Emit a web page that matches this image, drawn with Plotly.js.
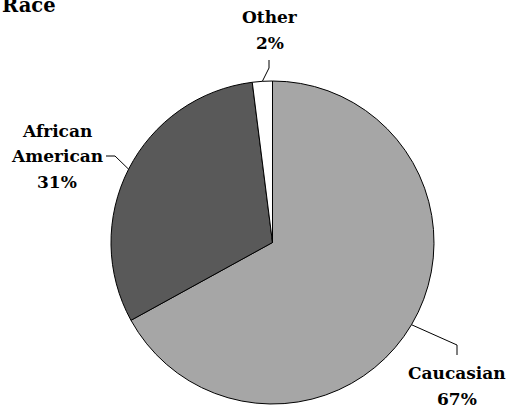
<!DOCTYPE html>
<html>
<head>
<meta charset="utf-8">
<script src="https://cdn.plot.ly/plotly-3.0.1.min.js"></script>
<style>html,body{margin:0;padding:0;background:#fff;}</style>
</head>
<body>
<div id="chart" style="width:508px;height:405px"></div>
<script>
// ---- data ----
const categories = ['Caucasian', 'African American', 'Other'];
const labelLines = [['Caucasian'], ['African', 'American'], ['Other']];
const values = [67, 31, 2];
const titleText = 'Race';

// ---- styling / layout ----
const colors = ['#a6a6a6', '#595959', '#ffffff'];
const W = 508, H = 405;
const cx = 272.5, cy = 242.5, R = 161.5;
const FONT = 'DejaVu Serif';
const LINE = 26;
// label (pixel centre x, first-line middle y) and leader bends (pixel)
const labelPos = [
  {x: 456.5, y: 372.5, bend: [457, 345], end: [457, 355]},
  {x: 56.5, y: 130.5, bend: [115, 156], end: [106, 156]},
  {x: 270, y: 17.5, bend: [269, 68], end: [269, 60]}
];

const px = x => x / W;
const py = y => (H - y) / H;

const total = values.reduce((a, b) => a + b, 0);
let cum = 0;
const annotations = [];
const shapes = [];
values.forEach((v, i) => {
  const mid = (cum + v / 2) / total * 2 * Math.PI;
  cum += v;
  const ax = cx + R * Math.sin(mid);
  const ay = cy - R * Math.cos(mid);
  const lp = labelPos[i];
  shapes.push({
    type: 'path', xref: 'paper', yref: 'paper',
    path: `M ${px(ax)},${py(ay)} L ${px(lp.bend[0])},${py(lp.bend[1])} L ${px(lp.end[0])},${py(lp.end[1])}`,
    line: {color: '#000', width: 1}
  });
  const lines = labelLines[i].concat([v + '%']);
  lines.forEach((t, k) => {
    annotations.push({
      xref: 'paper', yref: 'paper', x: px(lp.x), y: py(lp.y + k * (LINE - (i === 1 ? 0.5 : 0))),
      xanchor: 'center', yanchor: 'middle', showarrow: false,
      text: '<b>' + t + '</b>',
      font: {family: FONT, size: 17, color: '#000'}, align: 'center'
    });
  });
});

annotations.push({
  xref: 'paper', yref: 'paper', x: 0, y: py(19),
  xanchor: 'left', yanchor: 'bottom', showarrow: false,
  text: '<b>' + titleText + '</b>',
  font: {family: FONT, size: 19.5, color: '#000'}
});

const trace = {
  type: 'pie',
  labels: categories,
  values: values,
  sort: false,
  direction: 'clockwise',
  rotation: 0,
  textinfo: 'none',
  hoverinfo: 'none',
  marker: {colors: colors, line: {color: '#000', width: 1}},
  domain: {x: [px(cx - R), px(cx + R)], y: [py(cy + R), py(cy - R)]},
  showlegend: false
};

Plotly.newPlot('chart', [trace], {
  width: W, height: H,
  margin: {l: 0, r: 0, t: 0, b: 0},
  paper_bgcolor: '#fff',
  showlegend: false,
  font: {family: FONT},
  annotations: annotations,
  shapes: shapes
}, {displayModeBar: false, staticPlot: true});
</script>
</body>
</html>
